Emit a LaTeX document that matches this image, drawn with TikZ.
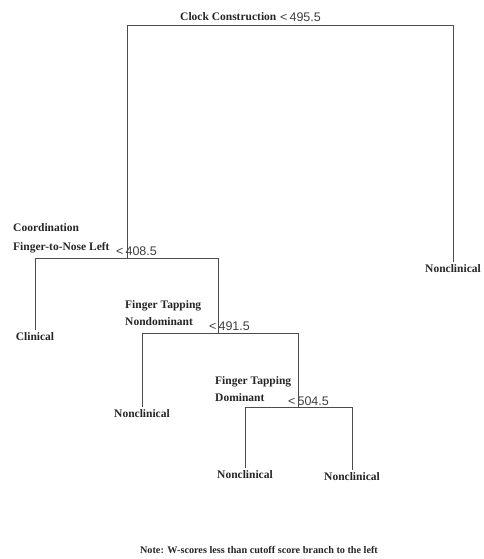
\documentclass[tikz,border=0pt]{standalone}
\usepackage{fontspec}
\setmainfont{Liberation Serif}
\newfontfamily\cutfont{Liberation Sans}
\usetikzlibrary{calc}

\begin{document}
\begin{tikzpicture}[
  x=1pt, y=-1pt,
  font=\bfseries\fontsize{11.5}{17}\selectfont,
  var/.style={anchor=south west, align=left, inner sep=0pt, text=black!85},
  cut/.style={anchor=base west, inner sep=0pt, text=black!75,
              font=\cutfont\fontsize{12.5}{12.5}\selectfont},
  leaf/.style={anchor=north, inner sep=2.5pt, text=black!85},
  branch/.style={draw=black!70, line width=0.9pt},
]
  \useasboundingbox (0,0) rectangle (483,559);

  % split points
  \coordinate (s1) at (286,25);
  \coordinate (s2) at (127,258);
  \coordinate (s3) at (218,333);
  \coordinate (s4) at (298,407);

  % split labels
  \node[var] (v1) at (180,21)  {Clock Construction};
  \node[cut] (c1) at (280,22)  {<\,495.5};
  \node[var] (v2) at (13,253)  {Coordination\\[2pt]Finger-to-Nose Left};
  \node[cut] (c2) at (116,255) {<\,408.5};
  \node[var] (v3) at (125,326) {Finger Tapping\\Nondominant};
  \node[cut] (c3) at (209,330) {<\,491.5};
  \node[var] (v4) at (215,402) {Finger Tapping\\Dominant};
  \node[cut] (c4) at (288,405) {<\,504.5};

  % leaves
  \node[leaf] (nc0)  at (453,262) {Nonclinical};
  \node[leaf] (clin) at (35,330)  {Clinical};
  \node[leaf] (nc1)  at (142,407) {Nonclinical};
  \node[leaf] (nc2)  at (245,468) {Nonclinical};
  \node[leaf] (nc3)  at (352,470) {Nonclinical};

  \draw[branch] (s1) -| (s2);
  \draw[branch] (s1) -| (nc0.north);
  \draw[branch] (s2) -| (clin.north);
  \draw[branch] (s2) -| (s3);
  \draw[branch] (s3) -| (nc1.north);
  \draw[branch] (s3) -| (s4);
  \draw[branch] (s4) -| (nc2.north);
  \draw[branch] (s4) -| (nc3.north);

  \node[text=black!85, font=\bfseries\fontsize{10.2}{12}\selectfont] (note) at (259,550)
    {Note: W-scores less than cutoff score branch to the left};
\end{tikzpicture}
\end{document}
